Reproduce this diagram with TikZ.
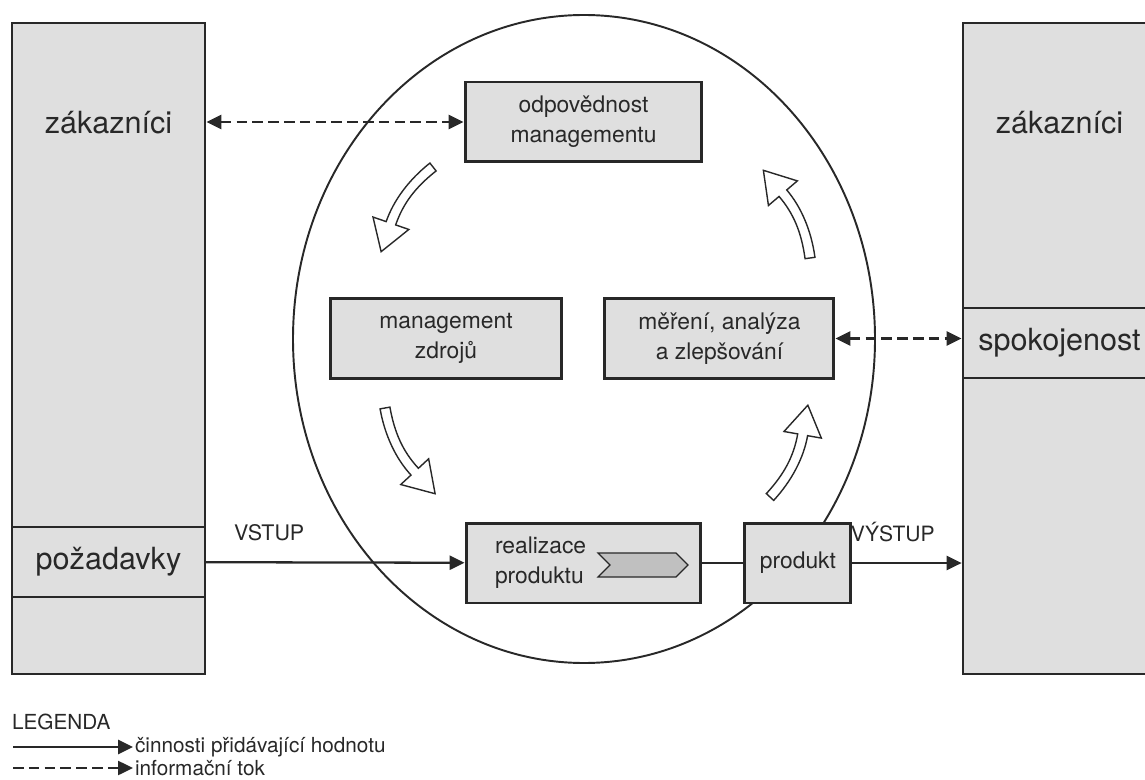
\documentclass[tikz,border=0pt]{standalone}
\usepackage{fontspec}
\setmainfont{TeX Gyre Heros}
\usetikzlibrary{positioning,shapes,arrows.meta}
\definecolor{boxgray}{RGB}{223,223,223}
\definecolor{linegray}{RGB}{40,40,40}
\definecolor{chevgray}{RGB}{192,192,192}

\begin{document}
\begin{tikzpicture}[
      x=0.02cm, y=-0.02cm,
      node distance=0.8cm,
      >={Triangle[length=8.5pt,width=8pt]},
      font=\fontsize{13}{17}\selectfont,
      text=linegray,
      bigfont/.style={font=\fontsize{17.4}{20}\selectfont},
      bigbox/.style={draw=linegray,fill=boxgray,line width=1.6pt,minimum width=3.86cm,minimum height=13.02cm,inner sep=0pt},
      band/.style={draw=linegray,fill=boxgray,line width=1pt,minimum width=3.86cm,minimum height=1.4cm,inner sep=0pt,bigfont},
      procbox/.style={draw=linegray,fill=boxgray,line width=1.7pt,minimum height=1.6cm,align=center,inner sep=0pt},
      flow/.style={draw=linegray,line width=1.3pt,->},
      info/.style={flow,line width=1.4pt,dash pattern=on 6pt off 3pt},
      legtext/.style={font=\fontsize{11.8}{14}\selectfont,anchor=west,inner xsep=1pt},
      harrow/.pic={
        \draw[linegray,fill=white,line width=0.8pt]
          (1.7,-4.7) -- (-1.7,4.7) .. controls (23.3,13.7) and (49.1,15.9) .. (71.1,10.9)
          -- (74.2,24.5) -- (99.3,-0.7) -- (65.8,-12.5) -- (68.9,1.1)
          .. controls (46.9,6.1) and (26.7,4.3) .. (1.7,-4.7) -- cycle;
      }
    ]
    \useasboundingbox (0,0) rectangle (1145,780);

    \draw[linegray,line width=1.1pt] (584,339) ellipse [x radius=291, y radius=324];

    \node[bigbox] (lbox) at (108.5,348.5) {};
    \node[band] (pozad) at (108.5,562) {požadavky};
    \node[bigfont] (zakL) at (108.5,123) {zákazníci};

    \node[bigbox] (rbox) at (1059.5,348.5) {};
    \node[band] (spok) at (1059.5,343) {spokojenost};
    \node[bigfont] (zakR) at (1059.5,123) {zákazníci};

    \node[procbox,minimum width=4.74cm] (odp) at (583.5,122) {odpovědnost\\managementu};
    \node[procbox,minimum width=4.64cm] (zdr) at (446,338.5) {management\\zdrojů};
    \node[procbox,minimum width=4.58cm,right=0.8cm of zdr] (mer) {měření, analýza\\a zlepšování};
    \node[procbox,text width=3.54cm,inner xsep=0.58cm,align=left] (real) at (583.5,563) {realizace\\produktu};
    \node[procbox,minimum width=2.12cm,right=0.82cm of real] (prod) {produkt};
    \node[signal,signal from=west,signal to=east,draw=linegray,fill=chevgray,line width=0.7pt,
          minimum width=1.8cm,minimum height=0.48cm,inner sep=0pt] (chev) at (643,565) {};

    \draw[info,<->] (odp.west -| lbox.east) -- (odp.west);
    \draw[info,<->] (mer.east) -- (mer.east -| rbox.west);
    \draw[flow] (pozad) -- node[pos=.245,above=8pt,font=\fontsize{12.2}{14}\selectfont] {VSTUP} (real);
    \draw[linegray,line width=1.3pt] (real) -- (prod);
    \draw[flow] (prod.east) -- node[pos=.37,above=8pt,font=\fontsize{12}{14}\selectfont] {VÝSTUP} (prod.east -| rbox.west);

    \pic[rotate=-121.9] at (433,167) {harrow};
    \pic[rotate=-60.1] at (385,408) {harrow};
    \pic[rotate=67.2] at (770,497) {harrow};
    \pic[rotate=117.6] at (810,258) {harrow};

    \node[legtext] (leg) at (10,722) {LEGENDA};
    \coordinate (l1) at (13,747);
    \coordinate (l2) at (13,768);
    \node[legtext] (leg1) at (133,747) {činnosti přidávající hodnotu};
    \node[legtext] (leg2) at (133,768) {informační tok};
    \draw[flow] (l1) -- (leg1.west);
    \draw[info,line width=1.2pt] (l2) -- (leg2.west);
\end{tikzpicture}
\end{document}
